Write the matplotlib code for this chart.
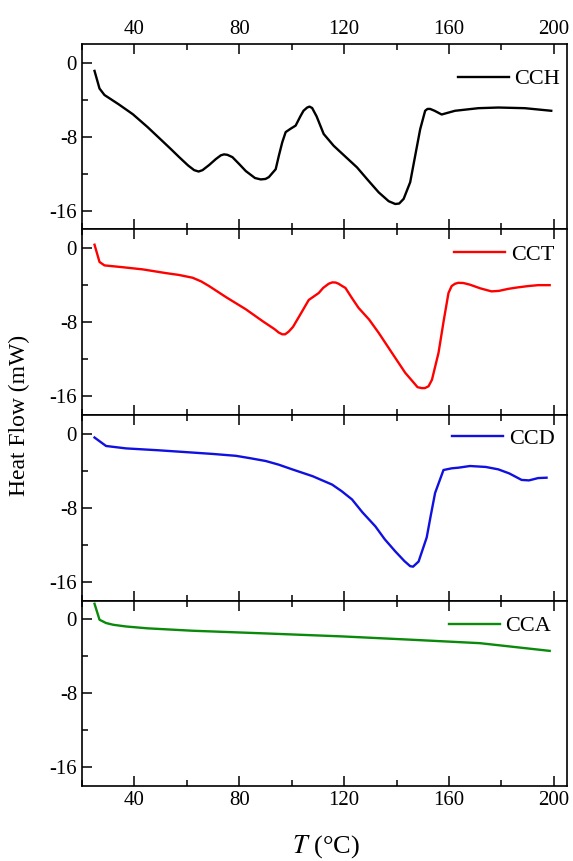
import numpy as np
import matplotlib.pyplot as plt
from matplotlib.ticker import MultipleLocator

plt.rcParams['font.family'] = ['Liberation Serif', 'DejaVu Serif']
plt.rcParams['axes.unicode_minus'] = False
plt.rcParams['mathtext.fontset'] = 'stix'

# DSC curves: temperature (C) and heat flow (mW)
t_cch = [24.8, 26.7, 28.6, 34.0, 39.4, 45.0, 50.6, 54.0, 57.1, 60.5, 62.8, 64.5, 66.0,
         68.5, 71.1, 73.0, 74.2, 75.5, 77.4, 80.0, 82.5, 86.0, 88.2, 90.0, 91.3, 93.9,
         95.1, 96.4, 97.7, 99.5, 101.5, 103.4, 104.5, 105.9, 106.8, 107.8, 109.5,
         112.2, 116.0, 120.5, 124.9, 129.0, 133.2, 137.0, 139.5, 141.0, 142.7,
         145.2, 147.1, 149.0, 150.9, 151.8, 152.8, 154.5, 157.2, 162.3, 171.2,
         178.8, 188.9, 199.0]
q_cch = [-0.9, -2.8, -3.5, -4.5, -5.57, -6.95, -8.44, -9.35, -10.2, -11.1, -11.6, -11.75,
         -11.6, -11.05, -10.4, -10.0, -9.9, -9.95, -10.2, -10.95, -11.7, -12.45, -12.6,
         -12.55, -12.35, -11.5, -10.05, -8.6, -7.5, -7.15, -6.8, -5.75, -5.2, -4.85,
         -4.75, -4.9, -5.8, -7.7, -8.97, -10.15, -11.3, -12.65, -14.0, -14.95,
         -15.25, -15.2, -14.7, -12.9, -10.05, -7.2, -5.2, -5.0, -5.0, -5.2, -5.6,
         -5.2, -4.92, -4.85, -4.92, -5.2]

t_cct = [24.8, 26.7, 28.6, 35.0, 43.2, 52.0, 57.0, 62.2, 65.5, 68.5, 75.0, 82.5, 89.0,
         93.5, 95.0, 96.4, 97.5, 98.9, 100.5, 103.0, 106.5, 110.3, 112.0, 114.1,
         115.5, 116.8, 117.9, 119.0, 120.5, 123.0, 125.5, 129.5, 133.2, 138.0, 143.3,
         146.5, 148.0, 149.6, 150.8, 152.2, 153.5, 156.0, 158.0, 159.8, 161.0, 162.3,
         163.5, 165.5, 168.0, 172.0, 176.2, 179.0, 182.6, 186.0, 190.2, 194.0, 198.4]
q_cct = [0.36, -1.5, -1.87, -2.05, -2.3, -2.7, -2.9, -3.2, -3.6, -4.1, -5.3, -6.6, -7.9,
         -8.75, -9.1, -9.3, -9.3, -9.0, -8.5, -7.3, -5.6, -4.85, -4.3, -3.85,
         -3.7, -3.72, -3.85, -4.05, -4.3, -5.4, -6.45, -7.7, -9.15, -11.2, -13.45,
         -14.5, -15.0, -15.1, -15.1, -14.9, -14.2, -11.3, -7.8, -4.85, -4.1, -3.85,
         -3.75, -3.77, -3.95, -4.35, -4.67, -4.62, -4.4, -4.25, -4.1, -4.0, -4.0]

t_ccd = [24.8, 29.2, 36.8, 49.0, 62.2, 70.0, 78.7, 84.0, 90.1, 95.0, 100.2, 108.0,
         115.4, 119.0, 123.0, 127.0, 131.9, 135.5, 139.5, 143.0, 145.2, 146.3, 148.4,
         151.5, 153.0, 154.7, 157.9, 161.0, 163.6, 168.0, 174.0, 178.8, 183.0, 187.7,
         190.5, 194.0, 197.2]
q_ccd = [-0.43, -1.34, -1.6, -1.8, -2.05, -2.2, -2.4, -2.65, -2.96, -3.35, -3.86, -4.6,
         -5.5, -6.2, -7.1, -8.5, -10.0, -11.4, -12.7, -13.75, -14.3, -14.35, -13.8,
         -11.2, -8.9, -6.4, -3.93, -3.75, -3.68, -3.5, -3.6, -3.86, -4.3, -5.0,
         -5.05, -4.8, -4.76]

t_cca = [24.8, 26.7, 29.2, 32.0, 36.8, 45.0, 62.2, 90.0, 119.2, 145.0, 171.8, 198.4]
q_cca = [1.65, -0.07, -0.43, -0.62, -0.8, -1.0, -1.26, -1.55, -1.87, -2.22, -2.6, -3.43]

series = [
    (t_cch, q_cch, 'CCH', 'black'),
    (t_cct, q_cct, 'CCT', '#ff0000'),
    (t_ccd, q_ccd, 'CCD', '#1010e0'),
    (t_cca, q_cca, 'CCA', '#0a8a0a'),
]
# legend centre (axes fraction) per panel
leg_pos = [(0.775, 0.811), (0.767, 0.864), (0.763, 0.871), (0.756, 0.862)]

fig, axes = plt.subplots(4, 1, figsize=(5.73, 8.61), dpi=100, sharex=True)
fig.subplots_adjust(left=0.143, right=0.9895, top=0.9489, bottom=0.0871, hspace=0)

for i, (ax, (t, q, name, col)) in enumerate(zip(axes, series)):
    ax.plot(t, q, color=col, lw=1.7, label=name)
    ax.set_xlim(20, 205)
    ax.set_ylim(-18, 2)
    ax.xaxis.set_major_locator(MultipleLocator(40))
    ax.xaxis.set_minor_locator(MultipleLocator(20))
    ax.set_yticks([0, -8, -16])
    ax.yaxis.set_minor_locator(MultipleLocator(4))
    ax.tick_params(which='both', direction='in', top=True, bottom=True,
                   right=False, labelsize=15, width=1.1)
    ax.tick_params(which='major', length=7)
    ax.tick_params(which='minor', length=4)
    ax.tick_params(axis='x', labelbottom=(i == 3), labeltop=(i == 0))
    for s in ax.spines.values():
        s.set_linewidth(1.2)
    ax.legend(loc='center left', bbox_to_anchor=leg_pos[i], frameon=False,
              fontsize=16, handlelength=2.3, handletextpad=0.25,
              borderpad=0, borderaxespad=0)

fig.text(0.034, 0.518, 'Heat Flow (mW)', rotation=90, ha='center', va='center',
         fontsize=17)
fig.text(0.569, 0.017, r'$T$ (°C)', ha='center', va='center', fontsize=19)

fig.savefig('out.png', dpi=100)
